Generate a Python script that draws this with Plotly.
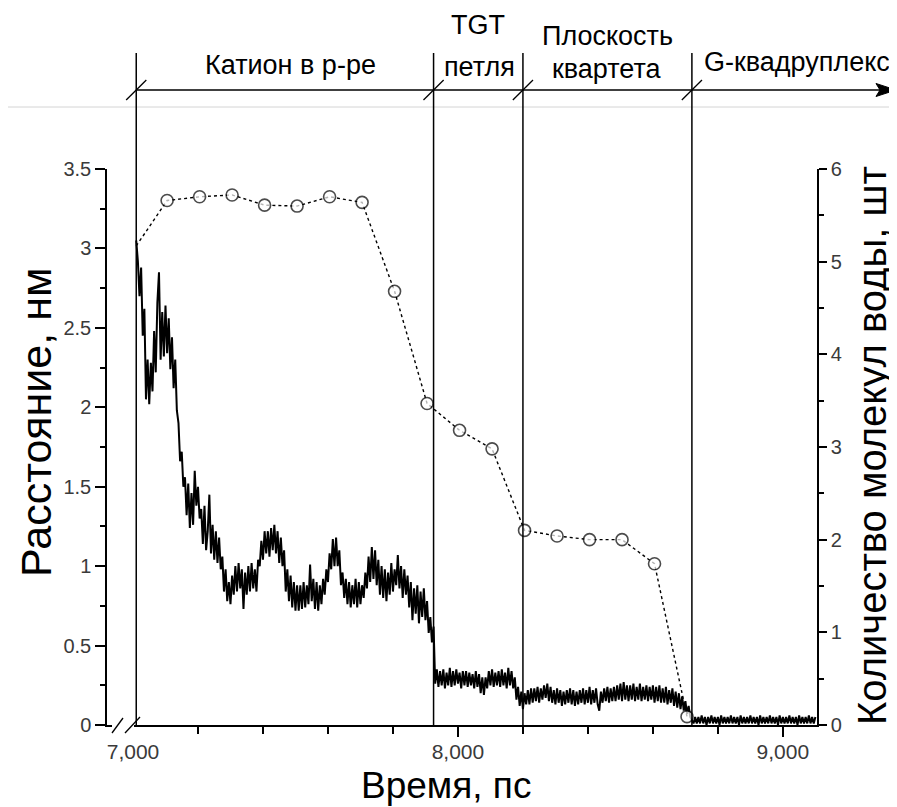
import plotly.graph_objects as go

# ---------------- data ----------------
# distance trajectory (nm), sampled every 5 ps starting at 7010 ps
T0_PS = 7010
STEP_PS = 5
distance_nm = [
    3.05, 2.92, 2.70, 2.88, 2.45, 2.62, 2.05, 2.30, 2.02, 2.28,
    2.10, 2.48, 2.22, 2.66, 2.85, 2.30, 2.60, 2.32, 2.64, 2.34,
    2.56, 2.24, 2.44, 2.12, 2.30, 1.98, 1.90, 1.66, 1.72, 1.50,
    1.56, 1.32, 1.52, 1.24, 1.46, 1.26, 1.60, 1.38, 1.50, 1.30,
    1.36, 1.14, 1.38, 1.10, 1.22, 1.45, 1.08, 1.26, 1.04, 1.22,
    1.02, 1.18, 0.98, 1.06, 0.84, 0.98, 0.78, 0.90, 0.76, 0.94,
    0.82, 1.00, 0.84, 1.02, 0.86, 0.98, 0.73, 0.96, 0.82, 1.00,
    0.84, 1.02, 0.86, 0.98, 0.84, 1.04, 1.00, 1.16, 1.04, 1.22,
    1.08, 1.22, 1.06, 1.24, 1.10, 1.26, 1.08, 1.22, 1.02, 1.18,
    1.00, 1.10, 0.84, 0.98, 0.78, 0.94, 0.74, 0.90, 0.72, 0.88,
    0.72, 0.88, 0.73, 0.90, 0.74, 0.88, 0.76, 1.01, 0.78, 0.92,
    0.73, 0.90, 0.72, 0.88, 0.76, 0.92, 0.82, 0.98, 0.90, 1.08,
    0.98, 1.17, 1.00, 1.18, 1.00, 1.10, 0.88, 0.96, 0.80, 0.92,
    0.76, 0.90, 0.74, 0.88, 0.76, 0.92, 0.74, 0.90, 0.76, 0.88,
    0.80, 0.96, 0.86, 1.06, 0.90, 1.12, 0.92, 1.10, 0.88, 1.04,
    0.82, 1.00, 0.80, 0.98, 0.78, 0.96, 0.82, 1.02, 0.84, 0.98,
    0.88, 1.07, 0.86, 1.00, 0.80, 0.98, 0.82, 0.94, 0.74, 0.90,
    0.66, 0.86, 0.70, 0.88, 0.64, 0.84, 0.68, 0.86, 0.66, 0.78,
    0.58, 0.68, 0.52, 0.62,
    0.26, 0.35, 0.24, 0.34, 0.25, 0.35, 0.23, 0.33, 0.25, 0.36,
    0.24, 0.34, 0.25, 0.35, 0.26, 0.33, 0.23, 0.34, 0.25, 0.34,
    0.24, 0.33, 0.25, 0.32, 0.23, 0.34, 0.24, 0.32, 0.20, 0.30,
    0.19, 0.30, 0.23, 0.34, 0.25, 0.35, 0.24, 0.33, 0.25, 0.34,
    0.24, 0.35, 0.25, 0.33, 0.23, 0.36, 0.25, 0.34, 0.23, 0.30,
    0.16, 0.24, 0.12, 0.21, 0.10, 0.20, 0.13, 0.22, 0.13, 0.23,
    0.14, 0.23, 0.15, 0.24, 0.14, 0.23, 0.16, 0.25, 0.17, 0.26,
    0.15, 0.24, 0.14, 0.22, 0.13, 0.23, 0.14, 0.22, 0.12, 0.21,
    0.13, 0.22, 0.14, 0.23, 0.13, 0.22, 0.12, 0.21, 0.13, 0.22,
    0.14, 0.23, 0.13, 0.22, 0.14, 0.24, 0.13, 0.22, 0.14, 0.23,
    0.13, 0.09, 0.21, 0.14, 0.23, 0.15, 0.24, 0.14, 0.23, 0.15,
    0.24, 0.15, 0.25, 0.16, 0.26, 0.15, 0.27, 0.16, 0.25, 0.15,
    0.25, 0.16, 0.26, 0.15, 0.24, 0.16, 0.26, 0.15, 0.24, 0.16,
    0.25, 0.15, 0.24, 0.16, 0.25, 0.14, 0.24, 0.15, 0.25, 0.14,
    0.23, 0.14, 0.24, 0.13, 0.22, 0.14, 0.23, 0.12, 0.21, 0.11,
    0.20, 0.10, 0.18, 0.09, 0.15, 0.07, 0.12, 0.05, 0.03, 0.01,
    0.05, 0.01, 0.05, 0.01, 0.06, 0.01, 0.05, 0.00, 0.05, 0.01,
    0.06, 0.01, 0.05, 0.01, 0.05, 0.00, 0.06, 0.01, 0.05, 0.01,
    0.05, 0.01, 0.06, 0.01, 0.05, 0.01, 0.05, 0.00, 0.06, 0.01,
    0.05, 0.01, 0.05, 0.01, 0.06, 0.01, 0.05, 0.01, 0.05, 0.00,
    0.06, 0.01, 0.05, 0.01, 0.05, 0.01, 0.06, 0.01, 0.05, 0.01,
    0.05, 0.00, 0.06, 0.01, 0.05, 0.01, 0.05, 0.01, 0.06, 0.01,
    0.05, 0.01, 0.05, 0.00, 0.06, 0.01, 0.05, 0.01, 0.05, 0.01,
    0.06, 0.01, 0.05, 0.01, 0.05,
]
time_ps = [T0_PS + STEP_PS * i for i in range(len(distance_nm))]

# number of water molecules (right axis)
water_time_ps = [7010, 7105, 7205, 7305, 7405, 7505, 7605, 7705, 7805, 7905,
                 8005, 8105, 8205, 8305, 8405, 8505, 8605, 8705]
water_count = [5.17, 5.66, 5.70, 5.72, 5.61, 5.60, 5.70, 5.64, 4.68, 3.47,
               3.18, 2.98, 2.10, 2.04, 2.00, 2.00, 1.74, 0.09]

# stage boundaries (ps) and stage labels
boundaries_ps = [7010, 7925, 8200, 8720]
stage_lines = ["Катион в р-ре", "TGT", "петля", "Плоскость", "квартета", "G-квадруплекс"]

x_tickvals = [7000, 8000, 9000]
x_ticktext = ["7,000", "8,000", "9,000"]

# ---------------- layout helpers (page pixel -> paper) ----------------
PAGE_OFF = 8                      # default body margin of the page
W, H = 897 - PAGE_OFF, 807 - PAGE_OFF
PLOT_L, PLOT_R, PLOT_T, PLOT_B = 107, 817, 169, 725   # page pixels
L, T = PLOT_L - PAGE_OFF, PLOT_T - PAGE_OFF
R, B = W - (PLOT_R - PAGE_OFF), H - (PLOT_B - PAGE_OFF)
PW, PH = PLOT_R - PLOT_L, PLOT_B - PLOT_T


def px(p):
    return (p - PLOT_L) / PW


def py(p):
    return (PLOT_B - p) / PH


FONT = "Liberation Sans, Arial, sans-serif"
TICK_COLOR = "#3a3a3a"

fig = go.Figure()
fig.add_trace(go.Scatter(
    x=time_ps, y=distance_nm, mode="lines",
    line=dict(color="black", width=2, simplify=False), yaxis="y", showlegend=False,
    hoverinfo="skip",
))
fig.add_trace(go.Scatter(
    x=water_time_ps, y=water_count, mode="lines+markers",
    line=dict(color="black", width=1.4, dash="dot"),
    marker=dict(symbol="circle", size=[0] + [12] * (len(water_count) - 1),
                color="white", line=dict(color="black", width=1.6)),
    yaxis="y2", showlegend=False,
))

shapes = []
# faint frame of the original picture
shapes.append(dict(type="line", xref="paper", yref="paper", x0=px(8), x1=px(891),
                   y0=py(107), y1=py(107), line=dict(color="#d4d4d4", width=1)))
shapes.append(dict(type="line", xref="paper", yref="paper", x0=px(891), x1=px(891),
                   y0=py(107), y1=py(807), line=dict(color="#d4d4d4", width=1)))
# stage boundaries
for t in boundaries_ps:
    shapes.append(dict(type="line", xref="x", yref="paper", x0=t, x1=t, y0=0, y1=py(53),
                       line=dict(color="black", width=1.5)))
    shapes.append(dict(type="line", xref="x", yref="paper", x0=t - 31, x1=t + 31,
                       y0=py(100), y1=py(80), line=dict(color="black", width=1.3)))
# time arrow
shapes.append(dict(type="line", xref="paper", yref="paper", x0=px(137), x1=px(884),
                   y0=py(90), y1=py(90), line=dict(color="black", width=1.5)))
shapes.append(dict(
    type="path", xref="paper", yref="paper",
    path="M {:.5f},{:.5f} L {:.5f},{:.5f} L {:.5f},{:.5f} L {:.5f},{:.5f} Z".format(
        px(876), py(83.5), px(896), py(90), px(876), py(96.5), px(880), py(90)),
    fillcolor="black", line=dict(color="black", width=1)))
# axis break
shapes.append(dict(type="rect", xref="paper", yref="paper", x0=px(112), x1=px(134),
                   y0=py(738), y1=py(720), fillcolor="white", line=dict(width=0)))
shapes.append(dict(type="line", xref="paper", yref="paper", x0=px(112), x1=px(123),
                   y0=py(733), y1=py(718), line=dict(color="black", width=1.3)))
shapes.append(dict(type="line", xref="paper", yref="paper", x0=px(125), x1=px(140),
                   y0=py(733), y1=py(717), line=dict(color="black", width=1.3)))

annotations = []
label_pos = [(290, 65.5), (478, 25.5), (479, 67.5), (607, 35.5), (607, 69.5), (797, 62.5)]
for text, (cx, cy) in zip(stage_lines, label_pos):
    annotations.append(dict(text=text, xref="paper", yref="paper", x=px(cx), y=py(cy),
                            xanchor="center", yanchor="middle", showarrow=False,
                            font=dict(family=FONT, size=27, color="black")))
# axis titles
annotations.append(dict(text="Время, пс", xref="paper", yref="paper", x=px(446), y=py(785),
                        xanchor="center", yanchor="middle", showarrow=False,
                        font=dict(family=FONT, size=37, color="black")))
annotations.append(dict(text="Расстояние, нм", xref="paper", yref="paper", x=px(36), y=py(423),
                        xanchor="center", yanchor="middle", showarrow=False, textangle=-90,
                        font=dict(family=FONT, size=43, color="black")))
annotations.append(dict(text="Количество молекул воды, шт", xref="paper", yref="paper",
                        x=px(872), y=py(445), xanchor="center", yanchor="middle",
                        showarrow=False, textangle=-90,
                        font=dict(family=FONT, size=40, color="black")))

axis_common = dict(showgrid=False, zeroline=False, showline=True, linecolor="black",
                   linewidth=1.5, ticks="outside", tickcolor="black", tickwidth=1.5)

fig.update_layout(
    width=W, height=H,
    margin=dict(l=L, r=R, t=T, b=B, pad=0),
    paper_bgcolor="white", plot_bgcolor="white",
    font=dict(family=FONT, color="black"),
    xaxis=dict(range=[6920, 9105], tickmode="array", tickvals=x_tickvals, ticktext=x_ticktext,
               ticklen=10, ticklabelstandoff=-3,
               tickfont=dict(size=21, color=TICK_COLOR, family=FONT),
               minor=dict(dtick=200, tick0=7000, ticks="outside", ticklen=7, tickwidth=1.5,
                          tickcolor="black"),
               **axis_common),
    yaxis=dict(range=[0, 3.5], tick0=0, dtick=0.5, ticklen=10,
               tickfont=dict(size=20, color=TICK_COLOR, family=FONT),
               minor=dict(dtick=0.25, ticks="outside", ticklen=5, tickwidth=1.5,
                          tickcolor="black"),
               **axis_common),
    yaxis2=dict(range=[0, 6], tick0=0, dtick=1, ticklen=8, overlaying="y", side="right",
                anchor="x", tickfont=dict(size=20, color=TICK_COLOR, family=FONT),
                minor=dict(dtick=0.5, ticks="outside", ticklen=5, tickwidth=1.5,
                           tickcolor="black"),
                **axis_common),
    shapes=shapes,
    annotations=annotations,
)

fig.write_html("out.html")
